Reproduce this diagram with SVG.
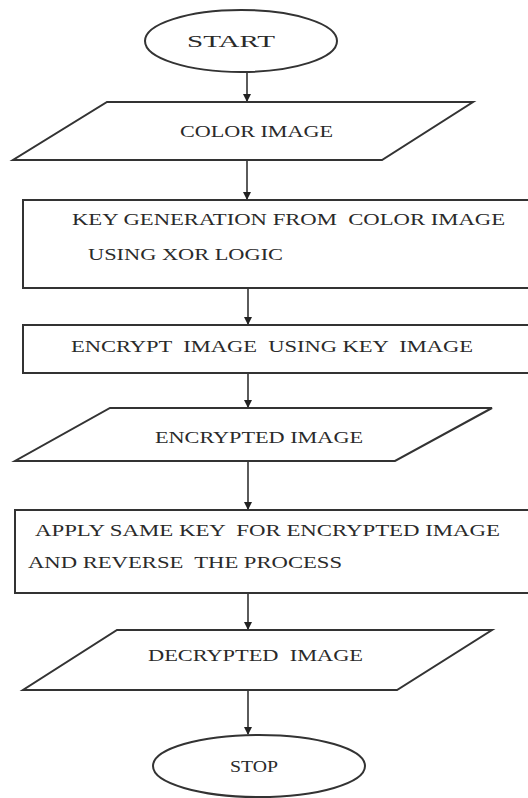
<svg xmlns="http://www.w3.org/2000/svg" width="528" height="798" viewBox="0 0 528 798">
<defs>
<style>
.s{fill:#fff;stroke:#333;stroke-width:2}
.t{font-family:"Liberation Serif","Times New Roman",serif;font-size:16px;fill:#2a2a2a;white-space:pre}
.c{stroke:#333;stroke-width:1.6;fill:none}
</style>
<marker id="ah" markerWidth="8" markerHeight="8" refX="7" refY="4" orient="auto" markerUnits="userSpaceOnUse">
<path d="M0,0 L8,4 L0,8 Z" fill="#222"/>
</marker>
</defs>
<rect width="528" height="798" fill="#fff"/>
<g id="connectors">
<line class="c" x1="247" y1="72" x2="247" y2="101" marker-end="url(#ah)"/>
<line class="c" x1="247" y1="160" x2="247" y2="199" marker-end="url(#ah)"/>
<line class="c" x1="248" y1="288" x2="248" y2="324" marker-end="url(#ah)"/>
<line class="c" x1="248" y1="373" x2="248" y2="407" marker-end="url(#ah)"/>
<line class="c" x1="248" y1="461" x2="248" y2="509" marker-end="url(#ah)"/>
<line class="c" x1="248" y1="593" x2="248" y2="629" marker-end="url(#ah)"/>
<line class="c" x1="248" y1="690" x2="248" y2="734" marker-end="url(#ah)"/>
</g>
<g id="start">
<ellipse class="s" cx="241" cy="41" rx="96" ry="31"/>
<text class="t" x="187" y="47" textLength="88" lengthAdjust="spacingAndGlyphs" font-size="18">START</text>
</g>
<g id="color-image">
<polygon class="s" points="107,102 473,102 382,160 13,160"/>
<text class="t" x="180" y="137" textLength="153" lengthAdjust="spacingAndGlyphs">COLOR IMAGE</text>
</g>
<g id="key-generation">
<rect class="s" x="23" y="200" width="520" height="88"/>
<text class="t" x="72" y="225" textLength="433" lengthAdjust="spacingAndGlyphs">KEY GENERATION FROM  COLOR IMAGE</text>
<text class="t" x="88" y="260" textLength="195" lengthAdjust="spacingAndGlyphs">USING XOR LOGIC</text>
</g>
<g id="encrypt">
<rect class="s" x="23" y="325" width="520" height="48"/>
<text class="t" x="71" y="352" textLength="402" lengthAdjust="spacingAndGlyphs">ENCRYPT  IMAGE  USING KEY  IMAGE</text>
</g>
<g id="encrypted-image">
<polygon class="s" points="110,408 492,408 395,461 15,461"/>
<text class="t" x="155" y="443" textLength="208" lengthAdjust="spacingAndGlyphs">ENCRYPTED IMAGE</text>
</g>
<g id="apply-key">
<rect class="s" x="15" y="510" width="528" height="83"/>
<text class="t" x="35" y="536" textLength="465" lengthAdjust="spacingAndGlyphs">APPLY SAME KEY  FOR ENCRYPTED IMAGE</text>
<text class="t" x="28" y="568" textLength="314" lengthAdjust="spacingAndGlyphs">AND REVERSE  THE PROCESS</text>
</g>
<g id="decrypted-image">
<polygon class="s" points="117,630 492,630 397,690 23,690"/>
<text class="t" x="148" y="661" textLength="215" lengthAdjust="spacingAndGlyphs">DECRYPTED  IMAGE</text>
</g>
<g id="stop">
<ellipse class="s" cx="259" cy="766" rx="106" ry="31"/>
<text class="t" x="230" y="772" textLength="48" lengthAdjust="spacingAndGlyphs" font-size="17">STOP</text>
</g>
</svg>
